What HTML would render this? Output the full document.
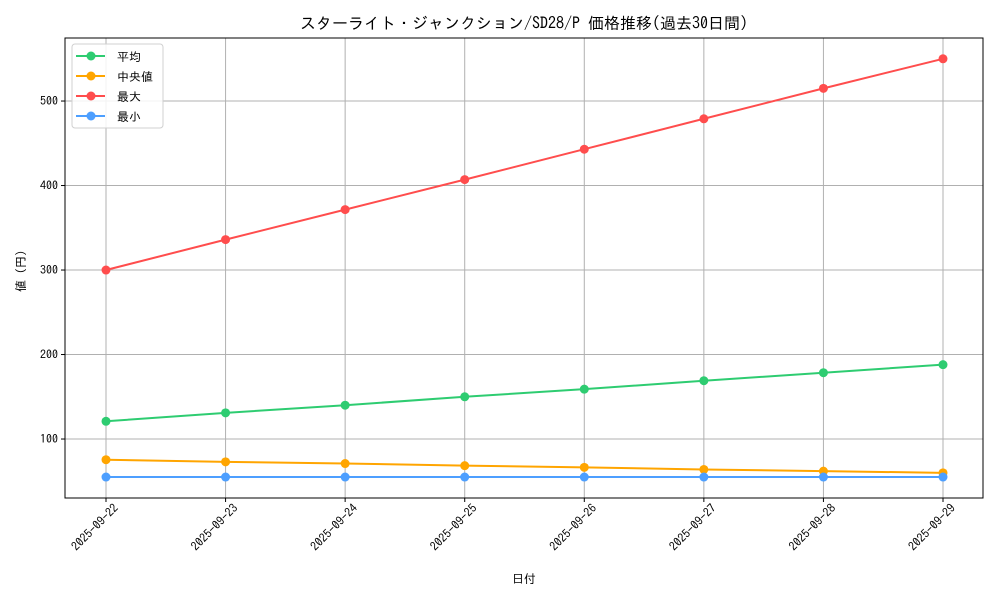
<!DOCTYPE html>
<html><head><meta charset="utf-8"><style>
body{margin:0;background:#fff;font-family:"IPAGothic","Noto Sans CJK JP",sans-serif;}
</style></head><body>
<svg id="c" width="1000" height="600" xmlns="http://www.w3.org/2000/svg" font-family="IPAGothic,'Noto Sans CJK JP',sans-serif"></svg>
<script>
const categories=["2025-09-22","2025-09-23","2025-09-24","2025-09-25","2025-09-26","2025-09-27","2025-09-28","2025-09-29"];
const meanVals=[121,131,140,150,159,169,178.5,188];
const medianVals=[75.5,73,71,68.5,66.5,64,62,60];
const maxVals=[300,336,371.5,407,443,479,515,550];
const minVals=[55,55,55,55,55,55,55,55];
const yTicks=[100,200,300,400,500];
const seriesNames=["平均","中央値","最大","最小"];
const colors=["#2ecc71","#ffa500","#ff4d4d","#4d9fff"];
const L=65,R=983,T=38,B=498,yMin=30.2,yMax=574.6;
const svg=document.getElementById('c');const NS="http://www.w3.org/2000/svg";
function X(i){return 106+i*(943-106)/(categories.length-1);}
function Y(v){return B-(v-yMin)/(yMax-yMin)*(B-T);}
function el(t,a,p){const e=document.createElementNS(NS,t);for(const k in a)e.setAttribute(k,a[k]);(p||svg).appendChild(e);return e;}
const title=el('text',{x:524,y:29,'text-anchor':'middle','font-size':16});title.textContent="スターライト・ジャンクション/SD28/P 価格推移(過去30日間)";


categories.forEach((c,i)=>{
 const g=el('line',{x1:X(i),x2:X(i),y1:T,y2:B,stroke:'#b0b0b0','stroke-width':1});
 
 
 el('line',{x1:X(i),x2:X(i),y1:B,y2:B+4,stroke:'#000'});
 const t=el('text',{transform:`translate(${X(i)+7},${B+5}) rotate(-45)`,'text-anchor':'end','font-size':12,dy:'0.7em'});t.textContent=c;
 
 
});
yTicks.forEach(v=>{
 const g=el('line',{x1:L,x2:R,y1:Y(v),y2:Y(v),stroke:'#b0b0b0','stroke-width':1});
 
 
 el('line',{x1:L-4,x2:L,y1:Y(v),y2:Y(v),stroke:'#000'});
 const t=el('text',{x:L-7,y:Y(v)+4,'text-anchor':'end','font-size':12});t.textContent=v;
 
 
});
const frame=el('rect',{x:L,y:T,width:R-L,height:B-T,fill:'none',stroke:'#000'});


const xt=el('text',{x:524,y:583,'text-anchor':'middle','font-size':12});xt.textContent="日付";


const yt=el('text',{transform:'translate(25,268) rotate(-90)','text-anchor':'middle','font-size':12});yt.textContent="値（円）";


[meanVals,medianVals,maxVals,minVals].forEach((s,k)=>{
 const g=el('g',{});
 
 
 el('polyline',{points:s.map((v,i)=>X(i)+','+Y(v)).join(' '),fill:'none',stroke:colors[k],'stroke-width':2},g);
 s.forEach((v,i)=>{const p=el('circle',{cx:X(i),cy:Y(v),r:4.5,fill:colors[k]},g);
 
 });
});
const lg=el('g',{});


el('rect',{x:72,y:44,width:91,height:84,rx:3,fill:'#fff','fill-opacity':0.85,stroke:'#d0d0d0'},lg);
seriesNames.forEach((n,k)=>{
 const y=56+k*20;
 const e=el('g',{},lg);
 
 
 el('line',{x1:76,x2:105,y1:y,y2:y,stroke:colors[k],'stroke-width':2},e);
 el('circle',{cx:91,cy:y,r:4.5,fill:colors[k]},e);
 const t=el('text',{x:117,y:y+5,'font-size':12},e);t.textContent=n;
});
</script>
</body></html>
